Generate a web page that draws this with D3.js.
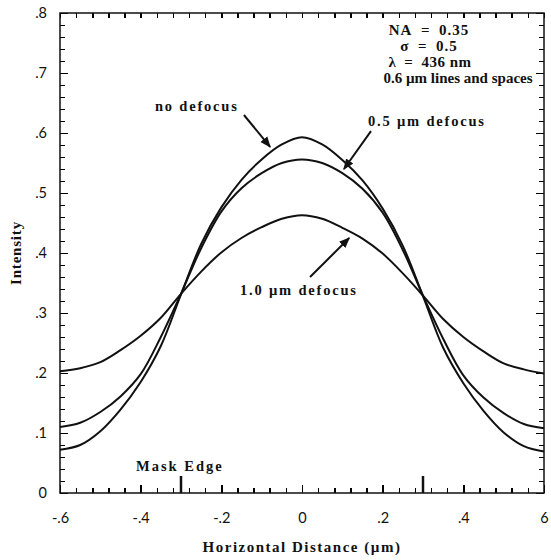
<!DOCTYPE html>
<html>
<head>
<meta charset="utf-8">
<script src="https://cdn.jsdelivr.net/npm/d3@7"></script>
<style>
body { margin: 0; background: #fff; }
.tick text { font-family: Lato, "Open Sans", sans-serif; font-size: 14.5px; fill: #111; }
.note { font-family: "Liberation Serif", serif; font-weight: bold; fill: #111; white-space: pre; }
</style>
</head>
<body>
<div id="plot"></div>
<script>

// horizontal positions (um) where the curves were read
var xs = [-0.6, -0.55, -0.5, -0.45, -0.4, -0.35, -0.3, -0.25, -0.2, -0.15, -0.1, -0.05, 0,
          0.05, 0.1, 0.15, 0.2, 0.25, 0.3, 0.35, 0.4, 0.45, 0.5, 0.55, 0.6];

var noDefocus = [0.072, 0.080, 0.103, 0.139, 0.185, 0.245, 0.331, 0.415, 0.476, 0.522, 0.556, 0.581, 0.593,
                 0.581, 0.555, 0.521, 0.474, 0.412, 0.328, 0.242, 0.183, 0.137, 0.101, 0.078, 0.069];
var defocus05 = [0.110, 0.117, 0.135, 0.161, 0.198, 0.260, 0.332, 0.408, 0.469, 0.508, 0.533, 0.550, 0.556,
                 0.550, 0.533, 0.507, 0.467, 0.405, 0.329, 0.257, 0.196, 0.159, 0.133, 0.115, 0.108];
var defocus10 = [0.203, 0.208, 0.218, 0.238, 0.262, 0.292, 0.332, 0.369, 0.401, 0.425, 0.443, 0.457, 0.463,
                 0.457, 0.442, 0.424, 0.399, 0.366, 0.329, 0.290, 0.260, 0.236, 0.216, 0.206, 0.199];

var xTickValues = [-0.6, -0.4, -0.2, 0, 0.2, 0.4, 0.6];
var xTickLabels = ["-.6", "-.4", "-.2", "0", ".2", ".4", "6"];
var yTickValues = [0, 0.1, 0.2, 0.3, 0.4, 0.5, 0.6, 0.7, 0.8];
var yTickLabels = ["0", ".1", ".2", ".3", ".4", ".5", ".6", ".7", ".8"];
var maskEdges = [-0.3, 0.3];

var infoLines = ["NA\u2002=\u20020.35", "\u03c3\u2002=\u20020.5", "\u03bb\u2002=\u2002436 nm", "0.6 \u00b5m lines and spaces"];

var width = 551, height = 560;
var margin = { top: 13, right: 7, bottom: 67, left: 60 };

var svg = d3.select("#plot").append("svg")
    .attr("width", width)
    .attr("height", height);

var x = d3.scaleLinear().domain([-0.6, 0.6]).range([margin.left, width - margin.right]);
var y = d3.scaleLinear().domain([0, 0.8]).range([height - margin.bottom, margin.top]);

var minorX = d3.range(-0.6, 0.6001, 0.04);
var minorY = d3.range(0, 0.8001, 0.02);

function styleAxis(g) {
    g.select(".domain").remove();
    g.selectAll(".tick line")
        .attr("stroke", "#000")
        .attr("stroke-width", 1.5)
        .attr("shape-rendering", "crispEdges");
}

// minor ticks on all four sides, pointing inwards
svg.append("g").attr("transform", "translate(0," + y(0) + ")")
    .call(d3.axisBottom(x).tickValues(minorX).tickSize(-5).tickFormat("")).call(styleAxis);
svg.append("g").attr("transform", "translate(0," + y(0.8) + ")")
    .call(d3.axisTop(x).tickValues(minorX).tickSize(-5).tickFormat("")).call(styleAxis);
svg.append("g").attr("transform", "translate(" + x(-0.6) + ",0)")
    .call(d3.axisLeft(y).tickValues(minorY).tickSize(-5).tickFormat("")).call(styleAxis);
svg.append("g").attr("transform", "translate(" + x(0.6) + ",0)")
    .call(d3.axisRight(y).tickValues(minorY).tickSize(-5).tickFormat("")).call(styleAxis);

// major ticks with labels
svg.append("g").attr("transform", "translate(0," + y(0) + ")")
    .call(d3.axisBottom(x).tickValues(xTickValues).tickSize(-8).tickPadding(20)
        .tickFormat(function(d, i) { return xTickLabels[i]; }))
    .call(styleAxis);
svg.append("g").attr("transform", "translate(" + x(-0.6) + ",0)")
    .call(d3.axisLeft(y).tickValues(yTickValues).tickSize(-8).tickPadding(13)
        .tickFormat(function(d, i) { return yTickLabels[i]; }))
    .call(styleAxis);
svg.append("g").attr("transform", "translate(" + x(0.6) + ",0)")
    .call(d3.axisRight(y).tickValues(yTickValues).tickSize(-8).tickFormat("")).call(styleAxis);

// frame
svg.append("rect")
    .attr("x", x(-0.6)).attr("y", y(0.8))
    .attr("width", x(0.6) - x(-0.6)).attr("height", y(0) - y(0.8))
    .attr("fill", "none").attr("stroke", "#111").attr("stroke-width", 1.5);

// mask edge markers
svg.selectAll(".mask").data(maskEdges).enter().append("line")
    .attr("x1", function(d) { return x(d); }).attr("x2", function(d) { return x(d); })
    .attr("y1", y(0)).attr("y2", y(0) - 17)
    .attr("stroke", "#111").attr("stroke-width", 2.5);

// curves
var line = d3.line()
    .x(function(d, i) { return x(xs[i]); })
    .y(function(d) { return y(d); })
    .curve(d3.curveCatmullRom.alpha(0.5));

[noDefocus, defocus05, defocus10].forEach(function(s) {
    svg.append("path")
        .attr("d", line(s))
        .attr("fill", "none")
        .attr("stroke", "#111")
        .attr("stroke-width", 2);
});

// arrows
svg.append("defs").append("marker")
    .attr("id", "head")
    .attr("viewBox", "0 0 10 10").attr("refX", 9).attr("refY", 5)
    .attr("markerWidth", 11).attr("markerHeight", 11)
    .attr("markerUnits", "userSpaceOnUse")
    .attr("orient", "auto")
    .append("path").attr("d", "M0,1 L10,5 L0,9 Z").attr("fill", "#111");

var arrows = [
    [-0.144, 0.630, -0.079, 0.577],
    [0.171, 0.603, 0.104, 0.540],
    [0.020, 0.360, 0.117, 0.425]
];
arrows.forEach(function(a) {
    svg.append("line")
        .attr("x1", x(a[0])).attr("y1", y(a[1]))
        .attr("x2", x(a[2])).attr("y2", y(a[3]))
        .attr("stroke", "#111").attr("stroke-width", 2)
        .attr("marker-end", "url(#head)");
});

// curve labels
function note(txt, px, py, size, spacing, anchor) {
    return svg.append("text").attr("class", "note")
        .attr("x", px).attr("y", py)
        .attr("font-size", size)
        .attr("letter-spacing", spacing)
        .attr("text-anchor", anchor || "start")
        .text(txt);
}
note("no defocus", 155, 111, 14.5, 1.8);
note("0.5 \u00b5m defocus", 368, 126, 14.5, 1.8);
note("1.0 \u00b5m defocus", 240, 295, 14.5, 1.8);
note("Mask Edge", 136, 471, 14.5, 2);

// parameter block
var infoX = [429, 429, 430, 458];
var infoSpacing = [1, 1, 0.5, 0];
infoLines.forEach(function(t, i) {
    note(t, infoX[i], 35 + i * 16, 15, infoSpacing[i], "middle");
});

// axis titles
note("Horizontal Distance (\u00b5m)", 302, 552, 15, 1.5, "middle");
note("Intensity", 0, 0, 15, 0.8, "middle")
    .attr("transform", "translate(21," + y(0.4) + ") rotate(-90)");

</script>
</body>
</html>
